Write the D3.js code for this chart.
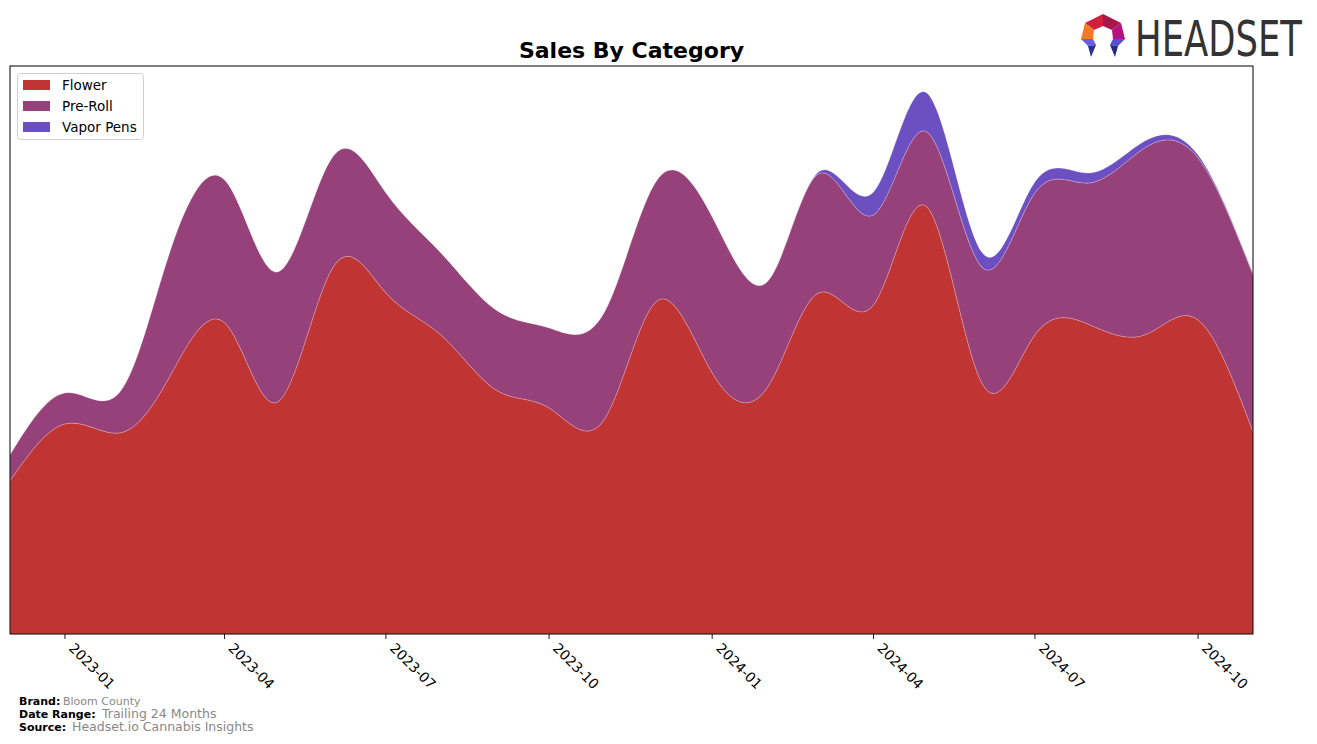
<!DOCTYPE html>
<html>
<head>
<meta charset="utf-8">
<script src="https://cdn.jsdelivr.net/npm/d3@7"></script>
<style>
  html, body { margin: 0; padding: 0; background: #fff; }
  svg { display: block; font-family: "DejaVu Sans", sans-serif; }
</style>
</head>
<body>
<svg id="chart" width="1317" height="744"></svg>
<script>
// ---------- data ----------
const months = ["2022-12","2023-01","2023-02","2023-03","2023-04","2023-05","2023-06","2023-07",
  "2023-08","2023-09","2023-10","2023-11","2023-12","2024-01","2024-02","2024-03",
  "2024-04","2024-05","2024-06","2024-07","2024-08","2024-09","2024-10","2024-11"];
const categories = ["Flower", "Pre-Roll", "Vapor Pens"];
const flower   = [153, 210, 201, 257, 311, 232, 366, 341, 299, 244, 226, 214, 333, 261, 246, 341, 329, 427, 251, 299, 309, 299, 314, 202];
const preRoll  = [26, 31, 41, 124, 143, 130, 111, 100, 82, 80, 80, 107, 121, 156, 106, 119, 90, 75, 116, 142, 142, 187, 162, 157];
const vaporPens= [0, 0, 0, 0, 0, 0, 0, 0, 0, 0, 0, 0, 0, 0, 0, 2, 23, 39, 15, 11, 10, 7, 3, 1];
const tickLabels = ["2023-01","2023-04","2023-07","2023-10","2024-01","2024-04","2024-07","2024-10"];
const colors = ["#c03434", "#96417a", "#6c4fc0"];

// ---------- layout ----------
const svg = d3.select("#chart");
const pL = 10, pR = 1253, pT = 66, pB = 634;
const parse = d3.utcParse("%Y-%m");

const rows = months.map((m, i) => ({
  date: parse(m), "Flower": flower[i], "Pre-Roll": preRoll[i], "Vapor Pens": vaporPens[i]
}));

const x = d3.scaleUtc()
  .domain([parse(months[0]), parse(months[months.length - 1])])
  .range([pL, pR]);
const y = d3.scaleLinear().domain([0, 568]).range([pB, pT]);

const series = d3.stack().keys(categories)(rows);

const area = d3.area()
  .x(d => x(d.data.date))
  .y0(d => y(d[0]))
  .y1(d => y(d[1]))
  .curve(d3.curveNatural);

svg.append("defs").append("clipPath").attr("id", "plotclip")
  .append("rect").attr("x", pL).attr("y", pT).attr("width", pR - pL).attr("height", pB - pT);

const g = svg.append("g").attr("clip-path", "url(#plotclip)");
// draw top layer first so any spline undershoot is hidden under the lower layers
g.selectAll("path.layer")
  .data(series.slice().reverse())
  .join("path")
  .attr("class", "layer")
  .attr("d", area)
  .attr("fill", d => colors[d.index])
  .attr("stroke", "rgba(255,255,255,0.35)")
  .attr("stroke-width", 0.6);

// frame
svg.append("rect")
  .attr("x", pL).attr("y", pT)
  .attr("width", pR - pL).attr("height", pB - pT)
  .attr("fill", "none").attr("stroke", "#000").attr("stroke-width", 1);

// x axis
const tickDates = tickLabels.map(t => parse(t));
const ax = svg.append("g").attr("transform", `translate(0,${pB})`);
ax.selectAll("line").data(tickDates).join("line")
  .attr("x1", d => x(d)).attr("x2", d => x(d))
  .attr("y1", 0).attr("y2", 5)
  .attr("stroke", "#000").attr("stroke-width", 0.9);
ax.selectAll("text").data(tickDates).join("text")
  .attr("transform", d => `translate(${x(d) + 3},${15}) rotate(45)`)
  .attr("text-anchor", "start")
  .attr("font-size", "13.9px")
  .attr("fill", "#000")
  .text((d, i) => tickLabels[i]);

// title
svg.append("text")
  .attr("x", (pL + pR) / 2).attr("y", 58)
  .attr("text-anchor", "middle")
  .attr("font-size", "22px").attr("font-weight", "bold")
  .text("Sales By Category");

// legend
const lg = svg.append("g");
lg.append("rect").attr("x", 17.5).attr("y", 73.5).attr("width", 126).attr("height", 66)
  .attr("rx", 3).attr("fill", "rgba(255,255,255,0.8)").attr("stroke", "#d0d0d0");
categories.forEach((c, i) => {
  const cy = 85 + i * 21;
  lg.append("rect").attr("x", 23).attr("y", cy - 5).attr("width", 27).attr("height", 10).attr("fill", colors[i]);
  lg.append("text").attr("x", 62).attr("y", cy + 5).attr("font-size", "13.5px").attr("fill", "#000").text(c);
});

// footer
const foot = [
  ["Brand:", "Bloom County", 705, 63, "11px"],
  ["Date Range:", "Trailing 24 Months", 718, 102, "12.5px"],
  ["Source:", "Headset.io Cannabis Insights", 731, 72, "12.5px"]
];
foot.forEach(([k, v, yy, vx, fs]) => {
  svg.append("text").attr("x", 19).attr("y", yy).attr("font-size", "11px").attr("font-weight", "bold").attr("fill", "#000").text(k);
  svg.append("text").attr("x", vx).attr("y", yy).attr("font-size", fs).attr("fill", "#888").text(v);
});

// logo
const logo = svg.append("g").attr("transform", "translate(1103,36)");
const facets = [
  ["M0,-22 L-18,-13 L-9,-6 L0,-10 Z", "#d21f3c"],
  ["M0,-22 L18,-13 L9,-6 L0,-10 Z", "#a8164a"],
  ["M-18,-13 L-22,3 L-10,3 L-9,-6 Z", "#f47b20"],
  ["M18,-13 L22,3 L10,3 L9,-6 Z", "#b5127d"],
  ["M-22,3 L-10,3 L-7,9 L-15,10 Z", "#6a5ee0"],
  ["M-15,10 L-7,9 L-12,21 Z", "#2e2f92"],
  ["M22,3 L10,3 L7,9 L15,10 Z", "#5550d2"],
  ["M15,10 L7,9 L12,21 Z", "#262a86"]
];
facets.forEach(([p, c]) => logo.append("path").attr("d", p).attr("fill", c));
svg.append("text")
  .attr("transform", "translate(1135,56) scale(1,1.35)")
  .attr("font-family", "'DejaVu Sans Condensed', 'Liberation Sans Narrow', sans-serif")
  .attr("font-size", "37px")
  .attr("textLength", 167).attr("lengthAdjust", "spacingAndGlyphs")
  .attr("fill", "#333")
  .text("HEADSET");
</script>
</body>
</html>
